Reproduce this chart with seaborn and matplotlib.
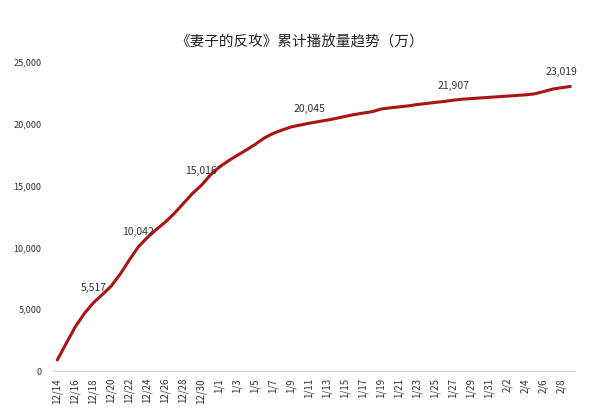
import pandas as pd
import matplotlib
matplotlib.use('Agg')
import matplotlib.pyplot as plt
import seaborn as sns
from matplotlib.ticker import FuncFormatter, FixedLocator

# daily dates 12/14 .. 2/9
dates = pd.date_range('2019-12-14', '2020-02-09', freq='D')
day_labels = [f'{d.month}/{d.day}' for d in dates]

# cumulative plays (10k)
plays = [900, 2250, 3580, 4650, 5517, 6180, 6880, 7850, 8980, 10042,
         10800, 11450, 12050, 12750, 13550, 14350, 15016, 15850, 16500, 17000,
         17450, 17880, 18340, 18850, 19230, 19500, 19750, 19900, 20045, 20180,
         20300, 20440, 20600, 20750, 20870, 20980, 21200, 21290, 21370, 21450,
         21560, 21640, 21730, 21810, 21907, 21990, 22040, 22090, 22140, 22190,
         22240, 22290, 22340, 22420, 22600, 22800, 22920, 23019]

# points that carry a value label
labelled = [4, 9, 16, 28, 44, 57]

df = pd.DataFrame({'day': range(len(plays)), 'label': day_labels, 'plays': plays})

sns.set_style('white')
plt.rcParams['font.family'] = ['Noto Sans CJK SC', 'DejaVu Sans']

fig = plt.figure(figsize=(6, 4.18), dpi=100)
ax = fig.add_axes([0.088, 0.1124, 0.87, 0.7393])

sns.lineplot(data=df, x='day', y='plays', ax=ax, color='#AC1414', linewidth=2.2)

for i in labelled:
    dx = -6 if i == len(plays) - 1 else 0
    ax.annotate(f'{plays[i]:,}', (i, plays[i]), textcoords='offset points',
                xytext=(dx, 7), ha='center', va='bottom', fontsize=7.5, color='#333333')

ax.set_xlim(-0.5, len(plays) - 0.5)
ax.set_ylim(0, 25000)
ax.set_yticks(range(0, 25001, 5000))
ax.yaxis.set_major_formatter(FuncFormatter(lambda v, p: f'{int(v):,}'))

ax.set_xticks(df['day'][::2])
ax.set_xticklabels(df['label'][::2], rotation=90, fontsize=7, color='#333333')
ax.xaxis.set_minor_locator(FixedLocator([x - 0.5 for x in range(0, len(plays) + 1, 2)]))
ax.tick_params(axis='x', which='major', length=0, pad=5)
ax.tick_params(axis='x', which='minor', length=4, color='#D0D0D0', width=0.8)
ax.tick_params(axis='y', labelsize=6.5, labelcolor='#333333', length=0, pad=8)

for s in ['top', 'right', 'left']:
    ax.spines[s].set_visible(False)
ax.spines['bottom'].set_color('#D9D9D9')
ax.spines['bottom'].set_linewidth(0.8)

ax.set_xlabel('')
ax.set_ylabel('')
fig.text(0.5, 0.898, '《妻子的反攻》累计播放量趋势（万）', ha='center', va='center',
         fontsize=10.5, color='#222222')

fig.savefig('out.png', dpi=100)
